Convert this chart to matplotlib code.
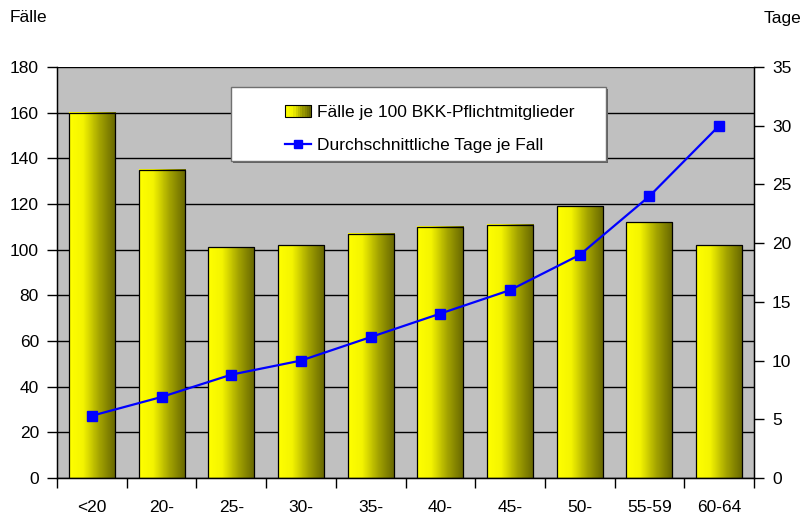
import matplotlib as mpl
import matplotlib.pyplot as plt
import numpy as np
from matplotlib.colors import LinearSegmentedColormap
from matplotlib.legend_handler import HandlerBase
from matplotlib.patches import Rectangle, Patch
from matplotlib.lines import Line2D

mpl.rcParams['font.family'] = ['Liberation Sans', 'DejaVu Sans']
mpl.rcParams['font.size'] = 12.5

categories = ["<20", "20-", "25-", "30-", "35-", "40-", "45-", "50-", "55-59", "60-64"]
faelle = [160, 135, 101, 102, 107, 110, 111, 119, 112, 102]
tage = [5.3, 6.9, 8.8, 10.0, 12.0, 14.0, 16.0, 19.0, 24.0, 30.0]

label_bar = "Fälle je 100 BKK-Pflichtmitglieder"
label_line = "Durchschnittliche Tage je Fall"

gold = LinearSegmentedColormap.from_list(
    "gold", [(0, "#ffff00"), (0.3, "#f4f400"), (0.65, "#a4a400"), (1, "#666600")])
grad = np.linspace(0, 1, 64).reshape(1, -1)


class GradientHandler(HandlerBase):
    def create_artists(self, legend, orig_handle, xdescent, ydescent,
                       width, height, fontsize, trans):
        arts = []
        n = 12
        for i in range(n):
            r = Rectangle((-xdescent + width * i / n, -ydescent), width / n + 0.3, height,
                          facecolor=gold(i / (n - 1)), edgecolor='none', transform=trans)
            arts.append(r)
        arts.append(Rectangle((-xdescent, -ydescent), width, height, facecolor='none',
                              edgecolor='black', lw=0.8, transform=trans))
        return arts


fig = plt.figure(figsize=(8.1, 5.16), dpi=100)
ax = fig.add_axes([57 / 810, 38 / 516, 697 / 810, 411 / 516])
ax.set_facecolor('#c0c0c0')
ax.set_axisbelow(True)

x = np.arange(len(categories))
bars = ax.bar(x, faelle, width=0.66, facecolor='none', edgecolor='black', lw=0.9, zorder=3)
for b in bars:
    x0, w, h = b.get_x(), b.get_width(), b.get_height()
    ax.imshow(grad, extent=[x0, x0 + w, 0, h], aspect='auto', cmap=gold,
              zorder=2, interpolation='bilinear')

ax.set_xlim(-0.5, len(categories) - 0.5)
ax.set_ylim(0, 180)
ax.set_yticks(np.arange(0, 181, 20))
ax.yaxis.grid(True, color='black', lw=1.0)
ax.set_xticks(x)
ax.set_xticklabels(categories)
ax.set_xticks(np.arange(-0.5, len(categories), 1), minor=True)
ax.tick_params(axis='x', which='major', length=0, pad=16)
ax.tick_params(axis='x', which='minor', length=7, width=1, direction='out')
ax.tick_params(axis='y', length=7, width=1, direction='out', pad=6)
for s in ax.spines.values():
    s.set_color('black')
    s.set_linewidth(1)
ax.spines['top'].set_visible(False)

ax2 = ax.twinx()
ax2.plot(x, tage, color='#0000ff', lw=1.6, marker='s', markersize=6.5)
ax2.set_ylim(0, 35)
ax2.set_yticks(np.arange(0, 36, 5))
ax2.tick_params(axis='y', length=7, width=1, direction='out', pad=6)
ax2.spines['right'].set_color('black')
ax2.spines['top'].set_visible(False)

# legend box
ax2.add_patch(Rectangle((0.2526, 0.766), 0.5381, 0.18, transform=ax2.transAxes,
                        facecolor='#606060', edgecolor='none', zorder=4))
ax2.add_patch(Rectangle((0.2496, 0.771), 0.5381, 0.18, transform=ax2.transAxes,
                        facecolor='white', edgecolor='#707070', lw=1, zorder=5))
handles = [Patch(label=label_bar),
           Line2D([], [], color='#0000ff', lw=1.6, marker='s', markersize=5.5, label=label_line)]
leg = ax2.legend(handles=handles, loc='upper left', bbox_to_anchor=(0.304, 0.945),
                 frameon=False, handlelength=1.55, handletextpad=0.35, labelspacing=1.0,
                 fontsize=12.5, handler_map={Patch: GradientHandler()})
leg.set_zorder(6)

fig.text(10 / 810, 1 - 18 / 516, "Fälle", ha='left', va='center', fontsize=12.5)
fig.text(764 / 810, 1 - 18 / 516, "Tage", ha='left', va='center', fontsize=12.5)

fig.savefig('out.png', dpi=100)
